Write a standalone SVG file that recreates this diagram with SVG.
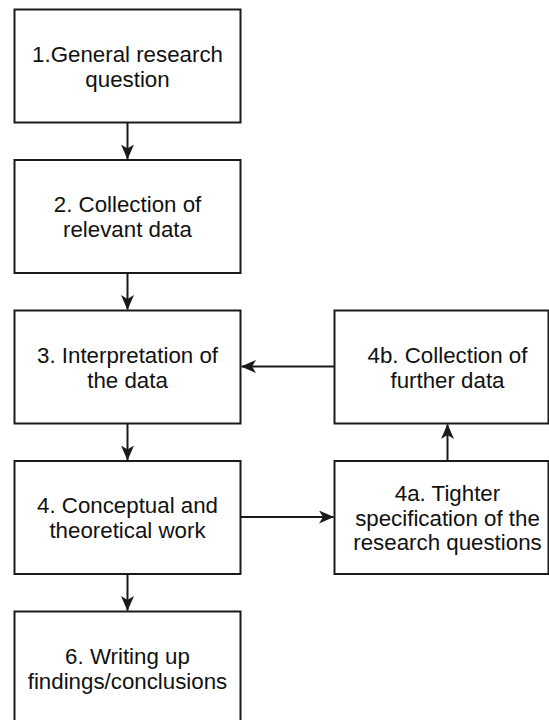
<svg xmlns="http://www.w3.org/2000/svg" width="549" height="720" viewBox="0 0 549 720">
  <style>
    .box { fill: #ffffff; stroke: #1a1a1a; stroke-width: 2; }
    .lbl { font-family: "Liberation Sans", Arial, sans-serif; font-size: 22.3px; fill: #111111; text-anchor: middle; }
    .edge { fill: none; stroke: #1a1a1a; stroke-width: 2; }
  </style>
  <defs>
    <marker id="arrow" viewBox="0 0 15 13" refX="14.5" refY="6.5" markerWidth="15" markerHeight="13" markerUnits="userSpaceOnUse" orient="auto">
      <path d="M0,0 L15,6.5 L0,13 L4,6.5 Z" fill="#1a1a1a"/>
    </marker>
  </defs>
  <rect width="549" height="720" fill="#ffffff"/>

  <g id="connectors">
    <path class="edge" d="M127.5,122.5 L127.5,159" marker-end="url(#arrow)"/>
    <path class="edge" d="M127.5,273 L127.5,309.5" marker-end="url(#arrow)"/>
    <path class="edge" d="M127.5,423.5 L127.5,460" marker-end="url(#arrow)"/>
    <path class="edge" d="M127.5,574 L127.5,610.5" marker-end="url(#arrow)"/>
    <path class="edge" d="M334.5,366.5 L241.5,366.5" marker-end="url(#arrow)"/>
    <path class="edge" d="M240.5,517 L333.5,517" marker-end="url(#arrow)"/>
    <path class="edge" d="M447.5,461 L447.5,424.5" marker-end="url(#arrow)"/>
  </g>

  <g id="node-1">
    <rect class="box" x="14.5" y="9.5" width="226" height="113"/>
    <text class="lbl" x="127.5" y="61.5">1.General research</text>
    <text class="lbl" x="127.5" y="86.5">question</text>
  </g>
  <g id="node-2">
    <rect class="box" x="14.5" y="160" width="226" height="113"/>
    <text class="lbl" x="127.5" y="212">2. Collection of</text>
    <text class="lbl" x="127.5" y="237">relevant data</text>
  </g>
  <g id="node-3">
    <rect class="box" x="14.5" y="310.5" width="226" height="113"/>
    <text class="lbl" x="127.5" y="362.5">3. Interpretation of</text>
    <text class="lbl" x="127.5" y="387.5">the data</text>
  </g>
  <g id="node-4">
    <rect class="box" x="14.5" y="461" width="226" height="113"/>
    <text class="lbl" x="127.5" y="513">4. Conceptual and</text>
    <text class="lbl" x="127.5" y="538">theoretical work</text>
  </g>
  <g id="node-6">
    <rect class="box" x="14.5" y="611.5" width="226" height="113"/>
    <text class="lbl" x="127.5" y="663.5">6. Writing up</text>
    <text class="lbl" x="127.5" y="688.5">findings/conclusions</text>
  </g>
  <g id="node-4b">
    <rect class="box" x="334.5" y="310.5" width="214" height="113"/>
    <text class="lbl" x="447.5" y="362.5">4b. Collection of</text>
    <text class="lbl" x="447.5" y="387.5">further data</text>
  </g>
  <g id="node-4a">
    <rect class="box" x="334.5" y="461" width="214" height="113"/>
    <text class="lbl" x="447.5" y="501">4a. Tighter</text>
    <text class="lbl" x="447.5" y="525.5">specification of the</text>
    <text class="lbl" x="447.5" y="550">research questions</text>
  </g>
</svg>
